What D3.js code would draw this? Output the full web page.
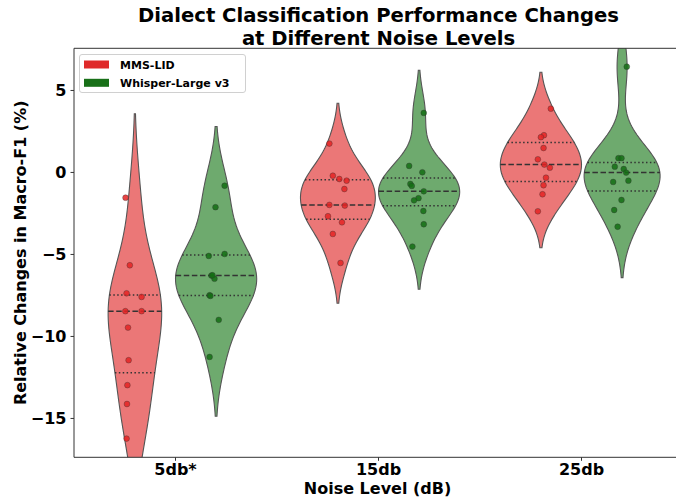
<!DOCTYPE html>
<html>
<head>
<meta charset="utf-8">
<script src="https://cdn.jsdelivr.net/npm/d3@7"></script>
<style>
  body { margin: 0; background: #fff; }
  svg { display: block; font-family: "DejaVu Sans", sans-serif; }
</style>
</head>
<body>
<div id="chart"></div>
<script>
// Dialect classification violins, one per model and noise level

const categories = ["5db*", "15db", "25db"];
const models = ["MMS-LID", "Whisper-Large v3"];
const yTicks = [-15, -10, -5, 0, 5];

// relative change in Macro-F1 (%), one list per noise level
const mmsValues = [
    [-1.57, -5.69, -7.40, -7.62, -8.49, -8.49, -9.49, -11.48, -13.0, -14.15, -16.26],
    [1.73, -0.23, -0.43, -0.53, -1.04, -2.01, -2.05, -2.70, -3.07, -3.78, -5.55],
    [3.86, 2.24, 2.12, 1.46, 0.77, 0.45, 0.26, -0.35, -0.81, -1.36, -2.40]
];
const whisperValues = [
    [-0.84, -2.15, -5.12, -5.00, -6.32, -6.51, -7.52, -7.56, -9.02, -11.28, -6.30],
    [3.60, 0.37, -0.02, -0.73, -0.85, -1.18, -1.60, -1.73, -2.38, -3.19, -4.55],
    [6.42, 0.84, 0.84, 0.32, 0.18, -0.04, -0.53, -0.61, -1.71, -2.32, -3.34]
];

// strip plot jitter (fraction of a category band)
const mmsJitter = [
    [-0.046, -0.025, -0.041, 0.033, -0.047, 0.033, -0.034, -0.031, -0.037, -0.039, -0.041],
    [-0.042, -0.025, 0.007, 0.043, 0.032, -0.042, 0.034, -0.049, 0.020, -0.025, 0.013],
    [0.049, 0.015, 0.0, 0.013, -0.015, 0.017, 0.044, 0.025, 0.013, 0.008, -0.015]
];
const whisperJitter = [
    [0.042, -0.003, -0.036, 0.042, -0.023, -0.008, -0.032, -0.028, 0.013, -0.032, -0.018],
    [0.023, -0.049, 0.016, -0.043, -0.036, 0.023, -0.003, -0.025, 0.021, 0.023, -0.033],
    [0.023, -0.018, -0.003, -0.036, 0.008, 0.020, 0.031, -0.044, -0.003, -0.039, -0.022]
];

const width = 676;
const height = 499;
const plot = { left: 74, right: 683, top: 48.3, bottom: 457.3 };

const fillColors = { "MMS-LID": "#eb7777", "Whisper-Large v3": "#6eaa6e" };
const pointColors = { "MMS-LID": "rgba(228,35,35,0.85)", "Whisper-Large v3": "rgba(20,110,20,0.85)" };
const legendColors = { "MMS-LID": "#df2a2a", "Whisper-Large v3": "#187018" };

const svg = d3.select("#chart")
    .append("svg")
    .attr("width", width)
    .attr("height", height);

const x = d3.scaleBand()
    .domain(categories)
    .range([plot.left, plot.right]);

const hue = d3.scaleBand()
    .domain(models)
    .range([-0.4 * x.bandwidth(), 0.4 * x.bandwidth()]);

const y = d3.scaleLinear()
    .domain([-17.4, 7.54])
    .range([plot.bottom, plot.top]);

// gaussian kde with scott's bandwidth, cut = 2, 100 grid points (seaborn style)
function kde(values) {
    const n = values.length;
    const bw = d3.deviation(values) * Math.pow(n, -1 / 5);
    const lo = d3.min(values) - 2 * bw;
    const hi = d3.max(values) + 2 * bw;
    const dens = v => d3.sum(values, xi => Math.exp(-0.5 * ((v - xi) / bw) ** 2)) / (n * bw * Math.sqrt(2 * Math.PI));
    const grid = d3.range(100).map(i => lo + (hi - lo) * i / 99);
    return { points: grid.map(v => ({ v, d: dens(v) })), dens };
}

const groups = categories.map((cat, i) => {
    const violins = models.map((m, j) => {
        const vals = j === 0 ? mmsValues[i] : whisperValues[i];
        const jit = j === 0 ? mmsJitter[i] : whisperJitter[i];
        return { cat, model: m, vals, jit, k: kde(vals) };
    });
    const maxD = d3.max(violins, v => d3.max(v.k.points, p => p.d));
    violins.forEach(v => v.maxD = maxD);
    return violins;
});

svg.append("clipPath").attr("id", "plotclip")
    .append("rect")
    .attr("x", plot.left).attr("y", plot.top)
    .attr("width", plot.right - plot.left)
    .attr("height", plot.bottom - plot.top);

const body = svg.append("g").attr("clip-path", "url(#plotclip)");
const halfW = 0.2 * x.bandwidth();

groups.flat().forEach(v => {
    const cx = x(v.cat) + x.bandwidth() / 2 + hue(v.model) + hue.bandwidth() / 2;
    const scaleW = d => d / v.maxD * halfW;

    body.append("path")
        .datum(v.k.points)
        .attr("d", d3.area()
            .y(d => y(d.v))
            .x0(d => cx - scaleW(d.d))
            .x1(d => cx + scaleW(d.d)))
        .attr("fill", fillColors[v.model])
        .attr("stroke", "#555")
        .attr("stroke-width", 1.1);

    const sorted = v.vals.slice().sort(d3.ascending);
    [0.25, 0.5, 0.75].forEach(q => {
        const val = d3.quantile(sorted, q);
        const h = scaleW(v.k.dens(val));
        body.append("line")
            .attr("x1", cx - h).attr("x2", cx + h)
            .attr("y1", y(val)).attr("y2", y(val))
            .attr("stroke", "#333")
            .attr("stroke-width", 1.5)
            .attr("stroke-dasharray", q === 0.5 ? "5.5,2.6" : "1.5,2.4");
    });

    body.append("g")
        .selectAll("circle")
        .data(v.vals)
        .join("circle")
        .attr("cx", (d, i) => cx + v.jit[i] * x.bandwidth())
        .attr("cy", d => y(d))
        .attr("r", 2.9)
        .attr("fill", pointColors[v.model])
        .attr("stroke", "rgba(50,50,50,0.6)")
        .attr("stroke-width", 0.6);
});

// spines
const spine = svg.append("g").attr("stroke", "#333").attr("stroke-width", 1);
spine.append("line").attr("x1", plot.left).attr("x2", plot.left).attr("y1", plot.top).attr("y2", plot.bottom);
spine.append("line").attr("x1", plot.left).attr("x2", plot.right).attr("y1", plot.top).attr("y2", plot.top);
spine.append("line").attr("x1", plot.left).attr("x2", plot.right).attr("y1", plot.bottom).attr("y2", plot.bottom);

// axes
const xAxis = svg.append("g")
    .attr("transform", `translate(0,${plot.bottom})`)
    .call(d3.axisBottom(x).tickSize(3.5).tickPadding(3));
const yAxis = svg.append("g")
    .attr("transform", `translate(${plot.left},0)`)
    .call(d3.axisLeft(y).tickValues(yTicks).tickSize(3.5).tickPadding(4)
        .tickFormat(d => d < 0 ? "\u2212" + Math.abs(d) : d));
[xAxis, yAxis].forEach(a => {
    a.select(".domain").remove();
    a.selectAll(".tick line").attr("stroke", "#333");
    a.selectAll(".tick text")
        .attr("fill", "#000")
        .style("font-family", "DejaVu Sans")
        .style("font-size", "16px")
        .style("font-weight", "bold");
});

svg.append("text")
    .attr("x", (plot.left + plot.right) / 2 - 1)
    .attr("y", 494)
    .attr("text-anchor", "middle")
    .style("font-size", "16px").style("font-weight", "bold")
    .text("Noise Level (dB)");

svg.append("text")
    .attr("transform", `translate(26,${(plot.top + plot.bottom) / 2}) rotate(-90)`)
    .attr("text-anchor", "middle")
    .style("font-size", "16px").style("font-weight", "bold")
    .text("Relative Changes in Macro-F1 (%)");

const title = svg.append("text")
    .attr("text-anchor", "middle")
    .style("font-size", "19.6px").style("font-weight", "bold");
title.append("tspan").attr("x", (plot.left + plot.right) / 2).attr("y", 22)
    .text("Dialect Classification Performance Changes");
title.append("tspan").attr("x", (plot.left + plot.right) / 2).attr("y", 45)
    .text("at Different Noise Levels");

// legend
const legend = svg.append("g");
legend.append("rect")
    .attr("x", 79.5).attr("y", 54.5)
    .attr("width", 166).attr("height", 38)
    .attr("rx", 2.5)
    .attr("fill", "rgba(255,255,255,0.85)")
    .attr("stroke", "#d0d0d0");
models.forEach((m, i) => {
    const ly = 60.5 + i * 18.3;
    legend.append("rect")
        .attr("x", 84).attr("y", ly)
        .attr("width", 25).attr("height", 8)
        .attr("fill", legendColors[m]);
    legend.append("text")
        .attr("x", 120).attr("y", ly + 8)
        .style("font-size", "11px").style("font-weight", "bold")
        .text(m);
});
</script>
</body>
</html>
